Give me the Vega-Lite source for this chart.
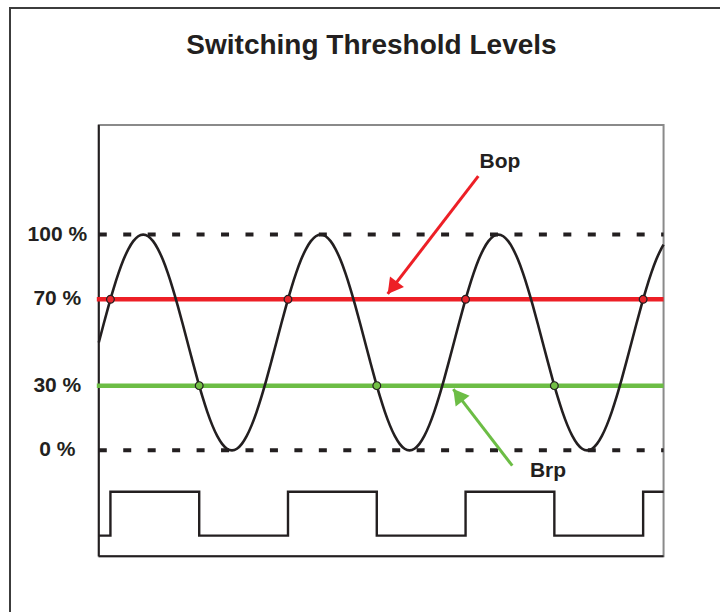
{
  "$schema": "https://vega.github.io/schema/vega-lite/v6.json",
  "width": 731,
  "height": 615,
  "autosize": {"type": "none"},
  "padding": {"left": 10, "top": 8, "right": 0, "bottom": 0},
  "background": "white",
  "config": {"view": {"stroke": "#3c3c3c", "strokeWidth": 2}},
  "title": {"text": "Switching Threshold Levels", "font": "Liberation Sans", "fontSize": 28, "fontWeight": "bold", "color": "#231f20", "anchor": "middle", "frame": "group", "offset": -52, "dx": -4},
  "datasets": {
    "box": [{"t": 0, "t2": 1145, "v": -49.1, "v2": 150.8}],
    "limits": [{"level": 100, "t": 0, "t2": 1145}, {"level": 0, "t": 0, "t2": 1145}],
    "thresholds": [{"name": "Bop", "level": 70, "t": -4, "t2": 1145}, {"name": "Brp", "level": 30, "t": -4, "t2": 1145}],
    "wave": [
      {"t":0,"v":50},{"t":10,"v":58.68},{"t":20,"v":67.1},{"t":30,"v":75},{"t":40,"v":82.14},{"t":50,"v":88.3},{"t":60,"v":93.3},{"t":70,"v":96.98},{"t":80,"v":99.24},{"t":90,"v":100},{"t":100,"v":99.24},{"t":110,"v":96.98},{"t":120,"v":93.3},{"t":130,"v":88.3},{"t":140,"v":82.14},{"t":150,"v":75},{"t":160,"v":67.1},{"t":170,"v":58.68},{"t":180,"v":50},{"t":190,"v":41.32},{"t":200,"v":32.9},{"t":210,"v":25},{"t":220,"v":17.86},{"t":230,"v":11.7},{"t":240,"v":6.7},{"t":250,"v":3.02},{"t":260,"v":0.76},{"t":270,"v":0},{"t":280,"v":0.76},{"t":290,"v":3.02},{"t":300,"v":6.7},{"t":310,"v":11.7},{"t":320,"v":17.86},{"t":330,"v":25},{"t":340,"v":32.9},{"t":350,"v":41.32},
      {"t":360,"v":50},{"t":370,"v":58.68},{"t":380,"v":67.1},{"t":390,"v":75},{"t":400,"v":82.14},{"t":410,"v":88.3},{"t":420,"v":93.3},{"t":430,"v":96.98},{"t":440,"v":99.24},{"t":450,"v":100},{"t":460,"v":99.24},{"t":470,"v":96.98},{"t":480,"v":93.3},{"t":490,"v":88.3},{"t":500,"v":82.14},{"t":510,"v":75},{"t":520,"v":67.1},{"t":530,"v":58.68},{"t":540,"v":50},{"t":550,"v":41.32},{"t":560,"v":32.9},{"t":570,"v":25},{"t":580,"v":17.86},{"t":590,"v":11.7},{"t":600,"v":6.7},{"t":610,"v":3.02},{"t":620,"v":0.76},{"t":630,"v":0},{"t":640,"v":0.76},{"t":650,"v":3.02},{"t":660,"v":6.7},{"t":670,"v":11.7},{"t":680,"v":17.86},{"t":690,"v":25},{"t":700,"v":32.9},{"t":710,"v":41.32},
      {"t":720,"v":50},{"t":730,"v":58.68},{"t":740,"v":67.1},{"t":750,"v":75},{"t":760,"v":82.14},{"t":770,"v":88.3},{"t":780,"v":93.3},{"t":790,"v":96.98},{"t":800,"v":99.24},{"t":810,"v":100},{"t":820,"v":99.24},{"t":830,"v":96.98},{"t":840,"v":93.3},{"t":850,"v":88.3},{"t":860,"v":82.14},{"t":870,"v":75},{"t":880,"v":67.1},{"t":890,"v":58.68},{"t":900,"v":50},{"t":910,"v":41.32},{"t":920,"v":32.9},{"t":930,"v":25},{"t":940,"v":17.86},{"t":950,"v":11.7},{"t":960,"v":6.7},{"t":970,"v":3.02},{"t":980,"v":0.76},{"t":990,"v":0},{"t":1000,"v":0.76},{"t":1010,"v":3.02},{"t":1020,"v":6.7},{"t":1030,"v":11.7},{"t":1040,"v":17.86},{"t":1050,"v":25},{"t":1060,"v":32.9},{"t":1070,"v":41.32},
      {"t":1080,"v":50},{"t":1090,"v":58.68},{"t":1100,"v":67.1},{"t":1110,"v":75},{"t":1120,"v":82.14},{"t":1130,"v":88.3},{"t":1140,"v":93.3},{"t":1145,"v":95.32}
    ],
    "square": [
      {"t":0,"v":-39.5},{"t":23.6,"v":-19.2},{"t":203.6,"v":-39.5},{"t":383.6,"v":-19.2},{"t":563.6,"v":-39.5},{"t":743.6,"v":-19.2},{"t":923.6,"v":-39.5},{"t":1103.6,"v":-19.2},{"t":1145,"v":-19.2}
    ],
    "markers": [
      {"name":"Bop","t":23.6,"v":70},{"name":"Bop","t":383.6,"v":70},{"name":"Bop","t":743.6,"v":70},{"name":"Bop","t":1103.6,"v":70},
      {"name":"Brp","t":203.6,"v":30},{"name":"Brp","t":563.6,"v":30},{"name":"Brp","t":923.6,"v":30}
    ],
    "arrows": [
      {"name":"Bop","t":769.4,"v":127.1,"t2":585.7,"v2":72.5},
      {"name":"Brp","t":838.3,"v":-7.1,"t2":718.7,"v2":28.4}
    ],
    "names": [
      {"name":"Bop","t":813.4,"v":133.6},
      {"name":"Brp","t":910.7,"v":-9.4}
    ],
    "levels": [
      {"label":"100 %","t":-84,"v":100},{"label":"70 %","t":-84,"v":70},{"label":"30 %","t":-84,"v":30},{"label":"0 %","t":-84,"v":0}
    ]
  },
  "layer": [
    {
      "data": {"name": "box"},
      "mark": {"type": "rect", "fill": null, "fillOpacity": 0, "stroke": "#8a8a8a", "strokeWidth": 2},
      "encoding": {
        "x": {"field": "t", "type": "quantitative", "scale": {"domain": [-180, 1302], "nice": false, "zero": false}, "axis": null},
        "x2": {"field": "t2"},
        "y": {"field": "v", "type": "quantitative", "scale": {"domain": [-80, 205], "nice": false, "zero": false}, "axis": null},
        "y2": {"field": "v2"}
      }
    },
    {
      "data": {"name": "box"},
      "mark": {"type": "rule", "stroke": "#231f20", "strokeWidth": 2},
      "encoding": {
        "x": {"field": "t", "type": "quantitative"},
        "y": {"field": "v", "type": "quantitative"},
        "y2": {"field": "v2"}
      }
    },
    {
      "data": {"name": "box"},
      "mark": {"type": "rule", "stroke": "#231f20", "strokeWidth": 2},
      "encoding": {
        "x": {"field": "t", "type": "quantitative"},
        "x2": {"field": "t2"},
        "y": {"field": "v", "type": "quantitative"}
      }
    },
    {
      "data": {"name": "limits"},
      "mark": {"type": "rule", "stroke": "#231f20", "strokeWidth": 4, "strokeDash": [8, 16.45], "strokeCap": "butt"},
      "encoding": {
        "x": {"field": "t", "type": "quantitative"},
        "x2": {"field": "t2"},
        "y": {"field": "level", "type": "quantitative"}
      }
    },
    {
      "data": {"name": "thresholds"},
      "mark": {"type": "rule", "strokeWidth": 4.5},
      "encoding": {
        "x": {"field": "t", "type": "quantitative"},
        "x2": {"field": "t2"},
        "y": {"field": "level", "type": "quantitative"},
        "color": {"field": "name", "type": "nominal", "scale": {"domain": ["Bop", "Brp"], "range": ["#ed1f26", "#6cbd45"]}, "legend": null}
      }
    },
    {
      "data": {"name": "wave"},
      "mark": {"type": "line", "interpolate": "monotone", "stroke": "#231f20", "strokeWidth": 2.6},
      "encoding": {
        "x": {"field": "t", "type": "quantitative"},
        "y": {"field": "v", "type": "quantitative"}
      }
    },
    {
      "data": {"name": "square"},
      "mark": {"type": "line", "interpolate": "step-after", "stroke": "#231f20", "strokeWidth": 2.4},
      "encoding": {
        "x": {"field": "t", "type": "quantitative"},
        "y": {"field": "v", "type": "quantitative"}
      }
    },
    {
      "data": {"name": "markers"},
      "mark": {"type": "point", "shape": "circle", "filled": true, "size": 60, "stroke": "#231f20", "strokeWidth": 1.2, "opacity": 1},
      "encoding": {
        "x": {"field": "t", "type": "quantitative"},
        "y": {"field": "v", "type": "quantitative"},
        "fill": {"field": "name", "type": "nominal", "scale": {"domain": ["Bop", "Brp"], "range": ["#e8262d", "#72bf44"]}, "legend": null}
      }
    },
    {
      "data": {"name": "arrows"},
      "mark": {"type": "rule", "strokeWidth": 3, "strokeCap": "butt"},
      "encoding": {
        "x": {"field": "t", "type": "quantitative"},
        "y": {"field": "v", "type": "quantitative"},
        "x2": {"field": "t2"},
        "y2": {"field": "v2"},
        "color": {"field": "name", "type": "nominal", "legend": null}
      }
    },
    {
      "data": {"name": "arrows"},
      "transform": [{"filter": "datum.name === 'Bop'"}],
      "mark": {"type": "point", "shape": "M0,0 L1.15,2 L-1.15,2 Z", "filled": true, "size": 234, "angle": 217.4, "opacity": 1, "color": "#ed1f26"},
      "encoding": {
        "x": {"field": "t2", "type": "quantitative"},
        "y": {"field": "v2", "type": "quantitative"}
      }
    },
    {
      "data": {"name": "arrows"},
      "transform": [{"filter": "datum.name === 'Brp'"}],
      "mark": {"type": "point", "shape": "M0,0 L1.15,2 L-1.15,2 Z", "filled": true, "size": 234, "angle": 322.4, "opacity": 1, "color": "#6cbd45"},
      "encoding": {
        "x": {"field": "t2", "type": "quantitative"},
        "y": {"field": "v2", "type": "quantitative"}
      }
    },
    {
      "data": {"name": "names"},
      "mark": {"type": "text", "font": "Liberation Sans", "fontSize": 21, "fontWeight": "bold", "color": "#231f20", "align": "center", "baseline": "middle"},
      "encoding": {
        "x": {"field": "t", "type": "quantitative"},
        "y": {"field": "v", "type": "quantitative"},
        "text": {"field": "name"}
      }
    },
    {
      "data": {"name": "levels"},
      "mark": {"type": "text", "font": "Liberation Sans", "fontSize": 21, "fontWeight": "bold", "color": "#231f20", "align": "center", "baseline": "middle"},
      "encoding": {
        "x": {"field": "t", "type": "quantitative"},
        "y": {"field": "v", "type": "quantitative"},
        "text": {"field": "label"}
      }
    }
  ]
}
